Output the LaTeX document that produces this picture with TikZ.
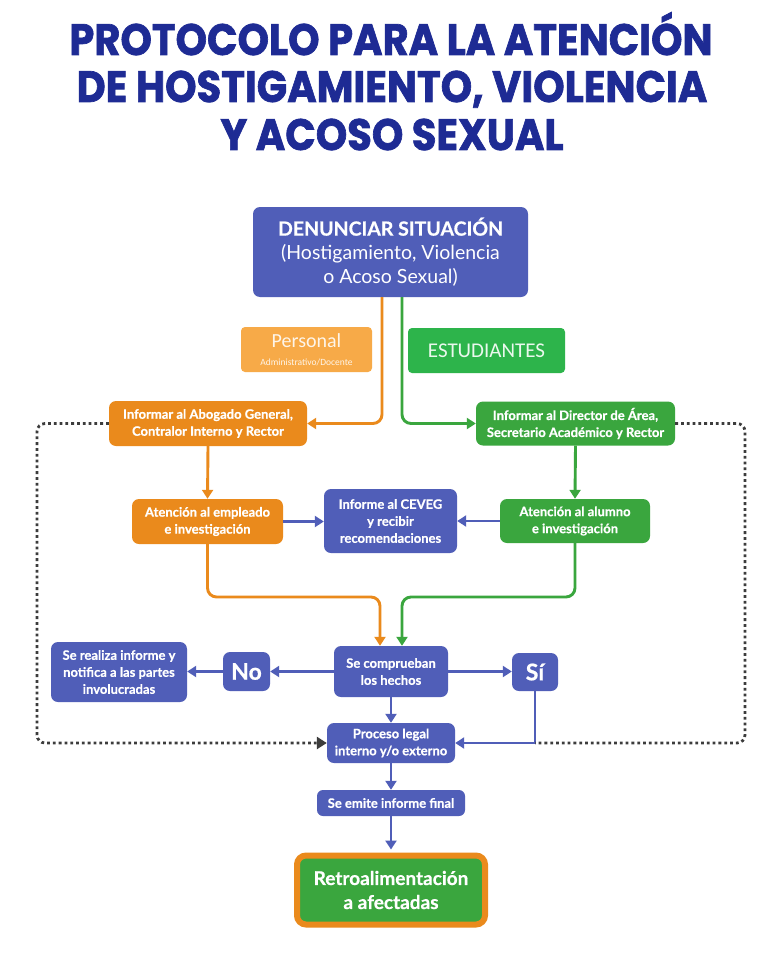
\documentclass[tikz,border=0pt]{standalone}
\usepackage{fontspec}
\setmainfont[BoldFeatures={FakeBold=0.6}]{Lato}
\newfontfamily\titlefont[BoldFeatures={FakeBold=1.6}]{Poppins}
\newfontfamily\calfont{Carlito}
\usetikzlibrary{arrows.meta}
\definecolor{navy}{RGB}{30,43,148}
\definecolor{bblue}{RGB}{80,94,184}
\definecolor{dorange}{RGB}{234,138,28}
\definecolor{lorange}{RGB}{247,170,72}
\definecolor{dgreen}{RGB}{58,166,62}
\definecolor{lgreen}{RGB}{45,180,75}
\definecolor{dotgray}{RGB}{60,60,60}
\tikzset{
  box/.style={rounded corners=7pt, inner sep=0pt, align=center, text=white,
    font=\bfseries\fontsize{13}{17}\selectfont},
  bluebox/.style={box, fill=bblue},
  orangebox/.style={box, fill=dorange},
  greenbox/.style={box, fill=dgreen},
  conn/.style={line width=2.9pt, -{Triangle[length=9pt,width=11pt]}},
  bconn/.style={conn, draw=bblue},
  oconn/.style={conn, draw=dorange, rounded corners=9pt},
  gconn/.style={conn, draw=dgreen, rounded corners=9pt},
  dotline/.style={line width=2.8pt, draw=dotgray, dash pattern=on 2.8pt off 3pt,
    rounded corners=8pt, -{Triangle[length=10pt,width=12pt]}},
  ttl/.style={anchor=base, text=navy, font=\titlefont\bfseries\fontsize{44}{48}\selectfont, inner sep=0pt}
}
\begin{document}
\begin{tikzpicture}[x=1pt,y=-1pt]
\useasboundingbox[fill=white] (0,0) rectangle (776,960);

% title
\node[ttl] (t1) at (391,55) {\scalebox{0.91}[1]{PROTOCOLO PARA LA ATENCIÓN}};
\node[ttl] (t2) at (392,102) {\scalebox{0.91}[1]{DE HOSTIGAMIENTO, VIOLENCIA}};
\node[ttl] (t3) at (392,150) {\scalebox{0.91}[1]{Y ACOSO SEXUAL}};

% nodes
\node[bluebox, minimum width=275pt, minimum height=90pt,
  font=\fontsize{19.5}{24}\selectfont] (top) at (390.5,252)
  {{\bfseries\fontsize{19.5}{24}\selectfont DENUNCIAR SITUACIÓN}\\(Hostigamiento, Violencia\\o Acoso Sexual)};
\node[box, fill=lorange, minimum width=131pt, minimum height=45pt, rounded corners=4pt,
  font=\calfont\fontsize{20}{20}\selectfont, text=white!88!lorange] (pers) at (306.5,349.5)
  {Personal\\[-2pt]{\fontsize{9.5}{10}\selectfont Administrativo/Docente}};
\node[box, fill=lgreen, minimum width=157pt, minimum height=45pt, rounded corners=4pt,
  font=\calfont\fontsize{21}{21}\selectfont, text=white!90!lgreen] (est) at (486.5,350.5)
  {ESTUDIANTES};

\node[orangebox, minimum width=198pt, minimum height=45pt] (ob1) at (208,423.5)
  {Informar al Abogado General,\\Contralor Interno y Rector};
\node[greenbox, minimum width=199pt, minimum height=44pt] (gb1) at (575.5,423.5)
  {Informar al Director de Área,\\Secretario Académico y Rector};
\node[orangebox, minimum width=151pt, minimum height=45pt] (ob2) at (207.5,521.5)
  {Atención al empleado\\e investigación};
\node[bluebox, minimum width=133pt, minimum height=64pt] (cev) at (390.5,521)
  {Informe al CEVEG\\y recibir\\recomendaciones};
\node[greenbox, minimum width=150pt, minimum height=44pt] (gb2) at (575,521)
  {Atención al alumno\\e investigación};

\node[bluebox, minimum width=114pt, minimum height=51pt] (comp) at (391,671.5)
  {Se comprueban\\los hechos};
\node[bluebox, minimum width=47pt, minimum height=39pt,
  font=\bfseries\fontsize{23}{23}\selectfont] (no) at (246.5,671.5) {No};
\node[bluebox, minimum width=136pt, minimum height=60pt] (real) at (119,672)
  {Se realiza informe y\\notifica a las partes\\involucradas};
\node[bluebox, minimum width=46pt, minimum height=38pt,
  font=\bfseries\fontsize{23}{23}\selectfont] (si) at (535,672) {Sí};
\node[bluebox, minimum width=128pt, minimum height=40pt] (proc) at (391,743)
  {Proceso legal\\interno y/o externo};
\node[bluebox, minimum width=148pt, minimum height=26pt, rounded corners=6pt] (emi) at (391,803)
  {Se emite informe final};
\node[box, fill=dgreen, draw=dorange, line width=6pt, minimum width=188pt, minimum height=69pt,
  rounded corners=9pt, font=\bfseries\fontsize{19}{24}\selectfont] (retro) at (391,890)
  {Retroalimentación\\a afectadas};

% coordinates
\coordinate (om) at (380,597);
\coordinate (gm) at (402,597);
\coordinate (dlx) at (37,0);
\coordinate (drx) at (745,0);

% connectors
\draw[oconn] ([xshift=-8.5pt]top.south) |- (ob1.east);
\draw[gconn] ([xshift=11.5pt]top.south) |- (gb1.west);
\draw[oconn] (ob1.south) -- (ob2.north);
\draw[gconn] (gb1.south) -- (gb2.north);
\draw[bconn] (ob2.east) -- (ob2.east -| cev.west);
\draw[bconn] (gb2.west) -- (gb2.west -| cev.east);
\draw[oconn] (ob2.south) |- (om) -- (om |- comp.north);
\draw[gconn] (gb2.south) |- (gm) -- (gm |- comp.north);
\draw[bconn] (comp.west) -- (no.east);
\draw[bconn] (no.west) -- (no.west -| real.east);
\draw[bconn] (comp.east) -- (comp.east -| si.west);
\draw[bconn] (comp.south) -- (proc.north);
\draw[bconn] (si.south) |- (proc.east);
\draw[bconn] (proc.south) -- (emi.north);
\draw[bconn] (emi.south) -- ([yshift=3pt]retro.north);
\draw[dotline] (ob1.west) -- (ob1.west -| dlx) -- (dlx |- proc.west) -- (proc.west);
\draw[dotline, -] (gb1.east) -- (gb1.east -| drx) -- (drx |- proc.east) -- (si.south |- proc.east);
\end{tikzpicture}
\end{document}
